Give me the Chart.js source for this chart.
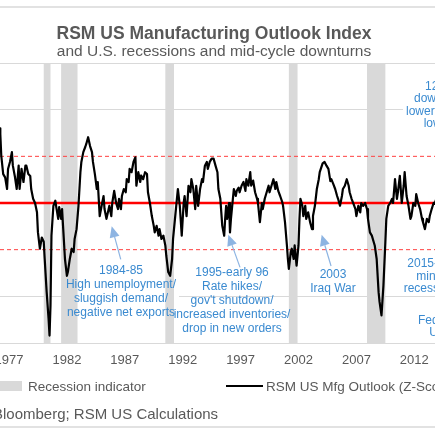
<!DOCTYPE html>
<html>
<head>
<meta charset="utf-8">
<script src="https://cdn.jsdelivr.net/npm/chart.js@4.4.1/dist/chart.umd.min.js"></script>
<style>
html,body{margin:0;padding:0;background:#fff;overflow:hidden}
#wrap{position:relative;width:435px;height:435px}
</style>
</head>
<body>
<div id="wrap"><canvas id="c"></canvas></div>
<script>
// ---- Data ----
const months = [
'1976-03','1976-04','1976-05','1976-07','1976-09','1976-11','1976-12','1977-02','1977-04','1977-05','1977-07','1977-09','1977-11','1977-12',
'1978-02','1978-04','1978-06','1978-07','1978-09','1978-11','1978-12','1979-02','1979-04','1979-06','1979-07','1979-09','1979-11',
'1980-01','1980-02','1980-04','1980-06','1980-07','1980-08','1980-09','1980-11','1981-01','1981-02','1981-04','1981-05','1981-07','1981-08','1981-09','1981-11',
'1982-01','1982-02','1982-04','1982-06','1982-08','1982-09','1982-11','1983-01','1983-03','1983-04','1983-06','1983-08','1983-09','1983-11',
'1984-01','1984-03','1984-04','1984-06','1984-08','1984-09','1984-11','1985-01','1985-03',
'1985-04','1985-06','1985-09','1985-11','1985-12','1986-02','1986-04','1986-06','1986-07','1986-09','1986-10','1986-12',
'1987-02','1987-03','1987-05','1987-06','1987-08','1987-10','1987-12','1988-01','1988-03','1988-05','1988-06','1988-08','1988-10','1988-12',
'1989-01','1989-03','1989-05','1989-07','1989-08','1989-10','1989-12','1990-01','1990-03','1990-05','1990-07','1990-08','1990-10','1990-12',
'1991-02','1991-03','1991-05','1991-07','1991-08','1991-10','1991-12','1992-02','1992-03','1992-05','1992-07','1992-09','1992-10','1992-12',
'1993-02','1993-03','1993-05','1993-07','1993-09','1993-10','1993-12','1994-02','1994-03',
'1994-05','1994-07','1994-09','1994-11','1995-01','1995-02','1995-04','1995-05','1995-06','1995-08','1995-09','1995-10','1995-11',
'1996-01','1996-02','1996-03','1996-05','1996-06','1996-08','1996-09','1996-11','1996-12','1997-02','1997-04','1997-06','1997-07','1997-09','1997-11','1997-12',
'1998-02','1998-04','1998-06','1998-07','1998-09','1998-11','1998-12','1999-02','1999-04','1999-06','1999-07','1999-09','1999-11',
'2000-01','2000-02','2000-04','2000-06','2000-08','2000-09','2000-11','2001-01','2001-02','2001-03','2001-05','2001-06','2001-08','2001-09','2001-11',
'2002-01','2002-02','2002-03','2002-05','2002-06','2002-08','2002-09','2002-11','2003-01','2003-03','2003-04','2003-06','2003-08','2003-10','2003-11','2004-02',
'2004-04','2004-06','2004-08','2004-10','2004-11','2005-01','2005-03','2005-05','2005-06','2005-08','2005-10','2005-11',
'2006-01','2006-03','2006-05','2006-06','2006-08','2006-10','2006-12','2007-01','2007-03','2007-05','2007-06','2007-08','2007-10','2007-12',
'2008-01','2008-03','2008-05','2008-07','2008-08','2008-10','2008-12','2009-01','2009-03','2009-05','2009-07','2009-08','2009-10','2009-12',
'2010-02','2010-03','2010-05','2010-07','2010-08','2010-10','2010-12','2011-02','2011-03','2011-05','2011-07','2011-09','2011-10','2011-12',
'2012-02','2012-03','2012-05','2012-07','2012-09','2012-10','2012-12','2013-02','2013-04','2013-05','2013-07','2013-09','2013-10','2013-12'
];
const outlook = [
1.60,1.48,1.01,0.62,0.55,0.30,0.73,0.88,1.09,0.80,0.58,0.30,0.80,0.30,
0.73,0.45,0.80,0.80,0.62,0.58,0.30,0.09,0.00,-0.20,-0.63,-0.98,-0.74,
-0.83,-1.20,-1.90,-2.48,-2.84,-2.20,-0.70,-0.06,0.05,-0.09,-0.34,-0.09,-0.34,-0.13,-0.49,-1.20,
-1.56,-1.48,-1.20,-0.98,-1.05,-0.77,-0.56,-0.06,0.66,0.88,1.09,1.20,1.26,1.41,
1.22,1.09,0.88,0.62,0.30,0.45,-0.28,-0.06,0.15,
-0.13,-0.34,-0.06,-0.28,0.00,0.26,0.00,-0.13,0.09,-0.13,0.15,0.30,
0.23,0.51,0.45,0.73,0.66,0.88,0.98,0.37,0.66,0.45,0.59,0.51,0.66,0.62,
0.23,0.00,-0.28,-0.49,-0.63,-0.49,-0.70,-0.56,-0.77,-0.70,-0.91,-1.13,-1.48,-1.56,
-1.20,-0.77,-0.34,0.09,0.30,-0.06,-0.70,0.00,0.15,-0.28,0.37,0.23,0.51,0.30,
-0.13,0.37,-0.06,0.30,0.51,0.45,0.80,0.88,0.73,
0.88,0.95,0.95,0.80,0.66,0.30,0.09,-0.20,-0.49,-0.70,-0.34,-0.06,-0.34,
0.00,-0.63,-0.34,0.09,0.30,0.15,0.26,0.33,0.23,0.37,0.45,0.26,0.51,0.37,0.66,0.37,
0.48,0.23,0.09,0.00,-0.41,0.00,-0.13,0.09,0.23,0.37,0.23,0.37,0.51,
0.30,0.45,0.26,0.15,0.03,-0.06,-0.41,-0.91,-1.20,-1.41,-1.05,-0.98,-1.20,-0.91,-1.34,
-0.91,-0.34,0.09,-0.06,-0.28,-0.06,-0.34,-0.20,-0.41,-0.56,-0.28,-0.06,0.30,0.51,0.66,0.85,
0.88,0.80,0.73,0.47,0.51,0.41,0.30,0.15,0.09,-0.06,0.15,0.30,
0.37,0.51,0.37,0.23,0.09,-0.02,-0.13,-0.28,-0.06,-0.20,0.00,-0.06,0.00,-0.13,
-0.34,-0.63,-0.70,-0.84,-0.91,-1.20,-1.91,-2.12,-2.41,-1.77,-0.84,-0.34,-0.06,0.00,
0.09,0.00,0.51,0.09,0.23,0.58,0.00,0.37,0.66,0.15,-0.06,-0.34,-0.28,0.00,
-0.06,0.19,0.00,-0.13,-0.34,-0.41,-0.56,-0.34,-0.41,-0.28,-0.13,0.00,-0.02,0.10
];
const recessionStart = ['1980-01','1981-07','1990-07','2001-03','2007-12'];
const recessionEnd   = ['1980-07','1982-11','1991-03','2001-11','2009-06'];
const tickYears = [1977,1982,1987,1992,1997,2002,2007,2012];
const bandLevels = [-1, 0, 1];

// ---- helpers / styles ----
const toYear = s => Number(s.slice(0,4)) + (Number(s.slice(5,7)) - 1) / 12;
const FONT = '"Liberation Sans", Arial, Helvetica, sans-serif';
const TXT = '#595959';
const BLUE = '#3A8AD0';
const ARROW = '#8DB4E2';
const GRID = '#D9D9D9';

const annotations = [
  {x:1986.67, y:-1.45, lh:14, box:true,
   lines:['1984-85','High unemployment/','sluggish demand/','negative net exports'],
   arrow:{from:[1986.65,-1.21], to:[1985.87,-0.50]}},
  {x:1996.26, y:-1.49, lh:14, box:false,
   lines:['1995-early 96','Rate hikes/','gov\'t shutdown/','increased inventories/','drop in new orders'],
   arrow:{from:[1996.95,-1.38], to:[1995.94,-0.68]}},
  {x:2004.98, y:-1.54, lh:14, box:false,
   lines:['2003','Iraq War'],
   arrow:{from:[2004.81,-1.35], to:[2004.00,-0.68]}},
  {x:2013.30, y:-1.30, lh:12.7, box:false,
   lines:['2015-16','mini-','recession']},
  {x:2014.30, y:-2.53, lh:11.5, box:false,
   lines:['Fed hike','U.S.']},
  {x:2014.25, y:2.49, lh:12.3, box:true,
   lines:['12-13','downturn/','lower energy','low oil']}
];

const pts = months.map((m, i) => ({x: toYear(m), y: outlook[i]}));

function annBox(ctx, xs, ys, a) {
  ctx.font = '12px ' + FONT;
  const w = Math.max(...a.lines.map(l => ctx.measureText(l).width));
  const cx = xs.getPixelForValue(a.x), cy = ys.getPixelForValue(a.y);
  return {x: cx - w/2 - 3, y: cy - 8, w: w + 6, h: (a.lines.length - 1) * a.lh + 16};
}

const decor = {
  id: 'decor',
  beforeDatasetsDraw(chart) {
    const {ctx, chartArea: ca, scales: {x: xs, y: ys}} = chart;
    ctx.save();
    ctx.beginPath(); ctx.rect(ca.left, ca.top, ca.right - ca.left, ca.bottom - ca.top); ctx.clip();
    ctx.fillStyle = '#fff';
    annotations.filter(a => a.box).forEach(a => {
      const b = annBox(ctx, xs, ys, a); ctx.fillRect(b.x, b.y, b.w, b.h);
    });
    ctx.fillStyle = GRID;
    recessionStart.forEach((s, i) => {
      const x0 = xs.getPixelForValue(toYear(s));
      const x1 = xs.getPixelForValue(toYear(recessionEnd[i]) + 1/12);
      ctx.fillRect(x0, ca.top, x1 - x0, ca.bottom - ca.top);
    });
    bandLevels.forEach(v => {
      const y = ys.getPixelForValue(v);
      ctx.beginPath();
      if (v === 0) { ctx.lineWidth = 2.6; ctx.setLineDash([]); ctx.strokeStyle = '#FF0000'; }
      else { ctx.lineWidth = 1; ctx.setLineDash([4, 3]); ctx.strokeStyle = '#FF4040'; }
      ctx.moveTo(ca.left, y); ctx.lineTo(ca.right, y); ctx.stroke();
    });
    ctx.restore();
  },
  afterDatasetsDraw(chart) {
    const {ctx, scales: {x: xs, y: ys}} = chart;
    ctx.save();
    ctx.setLineDash([]);
    annotations.filter(a => a.arrow).forEach(a => {
      const x0 = xs.getPixelForValue(a.arrow.from[0]), y0 = ys.getPixelForValue(a.arrow.from[1]);
      const x1 = xs.getPixelForValue(a.arrow.to[0]), y1 = ys.getPixelForValue(a.arrow.to[1]);
      const ang = Math.atan2(y1 - y0, x1 - x0), hl = 11, hw = 5;
      const bx = x1 - hl * Math.cos(ang), by = y1 - hl * Math.sin(ang);
      ctx.strokeStyle = ARROW; ctx.fillStyle = ARROW; ctx.lineWidth = 1.2;
      ctx.beginPath(); ctx.moveTo(x0, y0); ctx.lineTo(bx, by); ctx.stroke();
      ctx.beginPath();
      ctx.moveTo(x1, y1);
      ctx.lineTo(bx + hw * Math.sin(ang), by - hw * Math.cos(ang));
      ctx.lineTo(bx - hw * Math.sin(ang), by + hw * Math.cos(ang));
      ctx.closePath(); ctx.fill();
    });
    ctx.font = '12px ' + FONT; ctx.fillStyle = BLUE;
    ctx.textAlign = 'center'; ctx.textBaseline = 'middle';
    annotations.forEach(a => {
      const cx = xs.getPixelForValue(a.x), cy = ys.getPixelForValue(a.y);
      a.lines.forEach((l, i) => ctx.fillText(l, cx, cy + i * a.lh));
    });
    ctx.restore();
  },
  afterDraw(chart) {
    const {ctx, width} = chart;
    ctx.save();
    ctx.setLineDash([]);
    ctx.strokeStyle = GRID; ctx.lineWidth = 1.5;
    [7, 427].forEach(y => { ctx.beginPath(); ctx.moveTo(0, y); ctx.lineTo(width, y); ctx.stroke(); });
    ctx.fillStyle = TXT; ctx.textAlign = 'center'; ctx.textBaseline = 'alphabetic';
    ctx.font = 'bold 17.5px ' + FONT;
    ctx.fillText('RSM US Manufacturing Outlook Index', 214, 38.5);
    ctx.font = '15.5px ' + FONT;
    ctx.fillText('and U.S. recessions and mid-cycle downturns', 214, 56);
    ctx.textAlign = 'left';
    ctx.fillStyle = GRID; ctx.fillRect(-2, 381, 24, 10);
    ctx.fillStyle = TXT; ctx.font = '13.5px ' + FONT;
    ctx.fillText('Recession indicator', 28, 390.5);
    ctx.strokeStyle = '#000'; ctx.lineWidth = 2;
    ctx.beginPath(); ctx.moveTo(226, 386); ctx.lineTo(263, 386); ctx.stroke();
    ctx.fillText('RSM US Mfg Outlook (Z-Score)', 266, 390.5);
    ctx.font = '15px ' + FONT;
    ctx.fillText('Bloomberg; RSM US Calculations', -7, 418.5);
    ctx.restore();
  }
};

new Chart(document.getElementById('c'), {
  type: 'line',
  data: {
    datasets: [{
      label: 'RSM US Mfg Outlook (Z-Score)',
      data: pts,
      borderColor: '#000',
      borderWidth: 2.2,
      borderJoinStyle: 'round',
      pointRadius: 0,
      tension: 0,
      fill: false
    }]
  },
  options: {
    responsive: true,
    maintainAspectRatio: false,
    animation: false,
    layout: {autoPadding: false, padding: {top: 63, left: 0, right: 0, bottom: 0}},
    plugins: {legend: {display: false}, tooltip: {enabled: false}, title: {display: false}},
    scales: {
      x: {
        type: 'linear',
        min: 1976.223, max: 2013.787,
        grid: {display: false, drawTicks: false},
        border: {display: false},
        afterBuildTicks: ax => { ax.ticks = tickYears.map(v => ({value: v})); },
        afterFit: ax => { ax.height = 92; ax.paddingLeft = 0; ax.paddingRight = 0; },
        ticks: {
          padding: 10, maxRotation: 0, autoSkip: false,
          color: TXT, font: {family: FONT, size: 13},
          callback: v => String(v)
        }
      },
      y: {
        min: -3, max: 3,
        afterFit: ax => { ax.width = 0; ax.paddingTop = 0; ax.paddingBottom = 0; },
        grid: {
          drawTicks: false, lineWidth: 1,
          color: c => (bandLevels.includes(c.tick.value) ? 'rgba(0,0,0,0)' : GRID)
        },
        border: {display: false},
        ticks: {display: false, stepSize: 1}
      }
    }
  },
  plugins: [decor]
});
</script>
</body>
</html>
